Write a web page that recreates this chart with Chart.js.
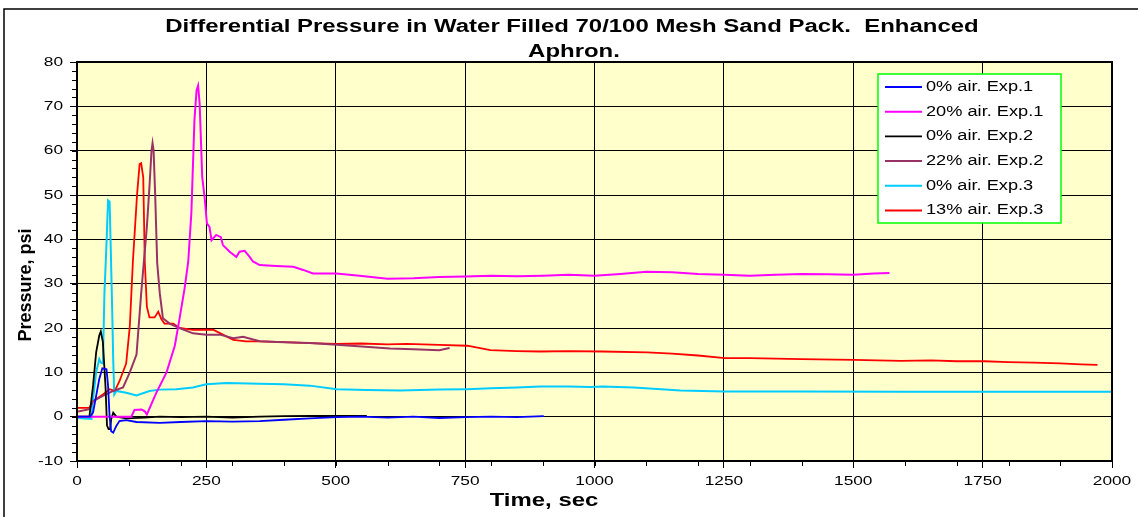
<!DOCTYPE html>
<html>
<head>
<meta charset="utf-8">
<script src="https://cdn.jsdelivr.net/npm/chart.js@4/dist/chart.umd.min.js"></script>
<style>
    html, body { margin: 0; padding: 0; background: #fff; }
    #wrap { width: 1138px; height: 517px; position: relative; }
</style>
</head>
<body>
<div id="wrap"><canvas id="pressureChart"></canvas></div>
<script>
// Axis ticks
const timeTicks = [0, 250, 500, 750, 1000, 1250, 1500, 1750, 2000];
const pressureTicks = [-10, 0, 10, 20, 30, 40, 50, 60, 70, 80];

// Series labels and colours (legend order)
const seriesLabels = ["0% air. Exp.1", "20% air. Exp.1", "0% air. Exp.2", "22% air. Exp.2", "0% air. Exp.3", "13% air. Exp.3"];
const seriesColors = ["#0000ff", "#ff00ff", "#000000", "#993366", "#00ccff", "#ff0000"];

// 0% air. Exp.1
const exp1Air0Time = [0, 25, 31, 37, 43, 49, 57, 60, 63, 66, 70, 76, 82, 95, 115, 160, 200, 250, 300, 353, 400, 450, 502, 550, 600, 650, 700, 750, 800, 850, 902];
const exp1Air0Psi = [0, 0, 0.9, 4.7, 8.5, 10.9, 10.7, 7, 0, -3.3, -3.6, -2.1, -1, -0.8, -1.2, -1.4, -1.2, -1, -1.1, -1, -0.7, -0.4, -0.1, 0, -0.2, 0, -0.3, -0.1, 0, -0.1, 0.1];

// 20% air. Exp.1
const exp1Air20Time = [0, 60, 105, 111, 125, 131, 135, 153, 173, 189, 198, 208, 215, 221, 227, 231, 234, 237, 242, 247, 251, 256, 260, 269, 278, 282, 295, 308, 314, 324, 334, 340, 353, 385, 418, 437, 456, 501, 546, 600, 650, 700, 750, 800, 850, 900, 950, 1000, 1050, 1100, 1150, 1200, 1250, 1300, 1350, 1400, 1450, 1500, 1540, 1570];
const exp1Air20Psi = [0, 0, 0, 1.5, 1.6, 1.2, 0.5, 5.3, 10, 16, 22, 29, 35, 46, 67, 73.6, 74.7, 70.6, 54, 49, 43.6, 42.8, 39.8, 41, 40.5, 38.7, 37.2, 36, 37.2, 37.4, 36, 35, 34.2, 34, 33.8, 33.1, 32.3, 32.3, 31.8, 31.1, 31.2, 31.5, 31.6, 31.8, 31.7, 31.8, 32, 31.8, 32.2, 32.7, 32.6, 32.2, 32, 31.8, 32, 32.2, 32.1, 32, 32.3, 32.4];

// 0% air. Exp.2
const exp2Air0Time = [0, 24, 31, 37, 43, 46, 50, 55, 58, 61, 64, 66, 70, 76, 95, 130, 160, 200, 250, 300, 353, 400, 450, 500, 560];
const exp2Air0Psi = [0, 0, 7, 14.5, 18.3, 19.2, 16.8, 7, -2, -2.8, -2.8, -0.6, 0.9, 0, -0.4, -0.2, 0, -0.1, 0, -0.2, 0, 0.1, 0.2, 0.2, 0.2];

// 22% air. Exp.2
const exp2Air22Time = [0, 24, 31, 50, 70, 89, 102, 115, 124, 135, 140, 144, 146, 148, 151, 155, 160, 166, 179, 198, 224, 250, 276, 302, 321, 353, 400, 450, 502, 550, 605, 650, 700, 720];
const exp2Air22Psi = [1.1, 1.7, 3.5, 4.7, 5.8, 6.6, 10, 14, 27.8, 42.8, 51.8, 60, 61.7, 60, 50.3, 34.6, 27.8, 22.2, 21, 20, 18.8, 18.5, 18.5, 17.7, 18, 17, 16.8, 16.6, 16.2, 15.8, 15.4, 15.2, 15, 15.5];

// 0% air. Exp.3
const exp3Air0Time = [0, 28, 31, 37, 43, 46, 50, 53, 57, 60, 63, 65, 68, 70, 72, 76, 95, 115, 140, 160, 192, 224, 250, 289, 353, 400, 450, 502, 560, 625, 700, 754, 800, 850, 895, 950, 992, 1015, 1076, 1166, 1252, 1400, 1600, 1800, 2000];
const exp3Air0Psi = [-0.3, -0.5, 4, 10, 13, 12.2, 12, 27.8, 39, 48.8, 48.5, 39, 24, 12.8, 5, 5.8, 5.4, 4.8, 5.8, 6.1, 6.2, 6.6, 7.3, 7.6, 7.4, 7.3, 7, 6.2, 6, 5.9, 6.1, 6.2, 6.4, 6.6, 6.8, 6.8, 6.7, 6.8, 6.6, 5.9, 5.7, 5.7, 5.6, 5.6, 5.6];

// 13% air. Exp.3
const exp3Air13Time = [0, 24, 31, 50, 63, 73, 82, 95, 102, 108, 116, 121, 124, 128, 131, 135, 140, 150, 157, 163, 169, 186, 198, 224, 263, 282, 302, 327, 353, 400, 450, 502, 550, 600, 637, 700, 754, 799, 850, 895, 950, 1015, 1102, 1150, 1200, 1252, 1300, 1400, 1501, 1592, 1650, 1700, 1753, 1800, 1850, 1900, 1940, 1972];
const exp3Air13Psi = [2, 2, 3.5, 5, 6.2, 5.8, 8, 12, 20.3, 35, 50, 57, 57.2, 54, 35, 24.8, 22.4, 22.4, 23.7, 22, 21, 21, 20, 19.6, 19.6, 18.5, 17.3, 17, 17, 16.8, 16.6, 16.4, 16.5, 16.3, 16.4, 16.2, 16, 15, 14.8, 14.7, 14.8, 14.7, 14.5, 14.2, 13.8, 13.2, 13.2, 13, 12.8, 12.6, 12.7, 12.5, 12.5, 12.3, 12.2, 12, 11.8, 11.7];

const seriesTimes = [exp1Air0Time, exp1Air20Time, exp2Air0Time, exp2Air22Time, exp3Air0Time, exp3Air13Time];
const seriesPsi = [exp1Air0Psi, exp1Air20Psi, exp2Air0Psi, exp2Air22Psi, exp3Air0Psi, exp3Air13Psi];
const seriesWidths = [1.8, 2, 1.8, 2, 2, 1.8];

// Zip time and pressure arrays into points
function toPoints(times, values) {
    return times.map((t, i) => ({ x: t, y: values[i] }));
}

// Draw text stretched horizontally like the original picture
function drawText(ctx, text, x, y, font, align, sx) {
    ctx.save();
    ctx.translate(x, y);
    ctx.scale(sx, 1);
    ctx.font = font;
    ctx.fillStyle = "#000";
    ctx.textAlign = align;
    ctx.textBaseline = "middle";
    ctx.fillText(text, 0, 0);
    ctx.restore();
}

const STRETCH = 1.33;
const FONT = "'Liberation Sans', Arial, sans-serif";

const decorPlugin = {
    id: "decor",
    beforeDraw(chart) {
        const { ctx, chartArea: a } = chart;
        ctx.save();
        ctx.fillStyle = "#ffffcc";
        ctx.fillRect(a.left, a.top, a.right - a.left, a.bottom - a.top);
        // outer chart frame (top and left visible)
        ctx.strokeStyle = "#000";
        ctx.lineWidth = 1.5;
        ctx.beginPath();
        ctx.moveTo(1138, 9);
        ctx.lineTo(4, 9);
        ctx.lineTo(4, 517);
        ctx.stroke();
        ctx.restore();
    },
    afterDraw(chart) {
        const { ctx, chartArea: a, scales } = chart;
        const xs = scales.x, ys = scales.y;

        ctx.save();
        // plot frame
        ctx.strokeStyle = "#000";
        ctx.lineWidth = 2;
        ctx.strokeRect(a.left, a.top, a.right - a.left, a.bottom - a.top);

        // minor ticks
        ctx.lineWidth = 1;
        ctx.beginPath();
        for (let v = -10; v <= 80; v += 2) {
            const py = Math.round(ys.getPixelForValue(v)) + 0.5;
            ctx.moveTo(a.left - 5, py);
            ctx.lineTo(a.left, py);
        }
        for (let t = 0; t <= 2000; t += 100) {
            const px = Math.round(xs.getPixelForValue(t)) + 0.5;
            ctx.moveTo(px, a.bottom);
            ctx.lineTo(px, a.bottom + 5);
        }
        ctx.stroke();
        ctx.restore();

        // tick labels
        const tickFont = "13px " + FONT;
        pressureTicks.forEach(v => {
            drawText(ctx, String(v), 63, ys.getPixelForValue(v), tickFont, "right", STRETCH);
        });
        timeTicks.forEach(t => {
            drawText(ctx, String(t), xs.getPixelForValue(t), 481, tickFont, "center", STRETCH);
        });

        // titles
        const titleFont = "bold 18px " + FONT;
        drawText(ctx, "Differential Pressure in Water Filled 70/100 Mesh Sand Pack.  Enhanced", 572, 27, titleFont, "center", STRETCH);
        drawText(ctx, "Aphron.", 574, 52, titleFont, "center", STRETCH);
        drawText(ctx, "Time, sec", 544, 501, titleFont, "center", STRETCH);

        ctx.save();
        ctx.translate(26, 285);
        ctx.rotate(-Math.PI / 2);
        ctx.font = titleFont;
        ctx.fillStyle = "#000";
        ctx.textAlign = "center";
        ctx.textBaseline = "middle";
        ctx.fillText("Pressure, psi", 0, 0);
        ctx.restore();

        // legend box
        ctx.save();
        ctx.fillStyle = "#fff";
        ctx.fillRect(878, 74, 183, 149);
        ctx.strokeStyle = "#00ff00";
        ctx.lineWidth = 1.5;
        ctx.strokeRect(878, 74, 183, 149);
        chart.data.datasets.forEach((ds, i) => {
            const rowY = 87 + i * 24.7;
            ctx.strokeStyle = ds.borderColor;
            ctx.lineWidth = ds.borderWidth;
            ctx.beginPath();
            ctx.moveTo(885, rowY);
            ctx.lineTo(922, rowY);
            ctx.stroke();
            drawText(ctx, ds.label, 926, rowY, "14px " + FONT, "left", 1.3);
        });
        ctx.restore();
    }
};

const datasets = seriesLabels.map((label, i) => ({
    label: label,
    data: toPoints(seriesTimes[i], seriesPsi[i]),
    borderColor: seriesColors[i],
    backgroundColor: seriesColors[i],
    borderWidth: seriesWidths[i],
    pointRadius: 0,
    tension: 0,
    fill: false
}));

const ctx = document.getElementById("pressureChart").getContext("2d");
new Chart(ctx, {
    type: "line",
    data: { datasets: datasets },
    options: {
        responsive: true,
        maintainAspectRatio: false,
        animation: false,
        layout: { padding: { left: 0, right: 26, top: 62, bottom: 0 } },
        plugins: {
            legend: { display: false },
            title: { display: false },
            tooltip: { enabled: false }
        },
        scales: {
            x: {
                type: "linear",
                min: 0,
                max: 2000,
                afterBuildTicks: (scale) => { scale.ticks = timeTicks.map(v => ({ value: v })); },
                afterFit: (scale) => { scale.height = 56; },
                ticks: { display: false },
                grid: { color: "#000", lineWidth: 1, tickLength: 7, drawTicks: true },
                border: { color: "#000", width: 2 }
            },
            y: {
                type: "linear",
                min: -10,
                max: 80,
                afterBuildTicks: (scale) => { scale.ticks = pressureTicks.map(v => ({ value: v })); },
                afterFit: (scale) => { scale.width = 77; },
                ticks: { display: false },
                grid: { color: "#000", lineWidth: 1, tickLength: 7, drawTicks: true },
                border: { color: "#000", width: 2 }
            }
        }
    },
    plugins: [decorPlugin]
});
</script>
</body>
</html>
